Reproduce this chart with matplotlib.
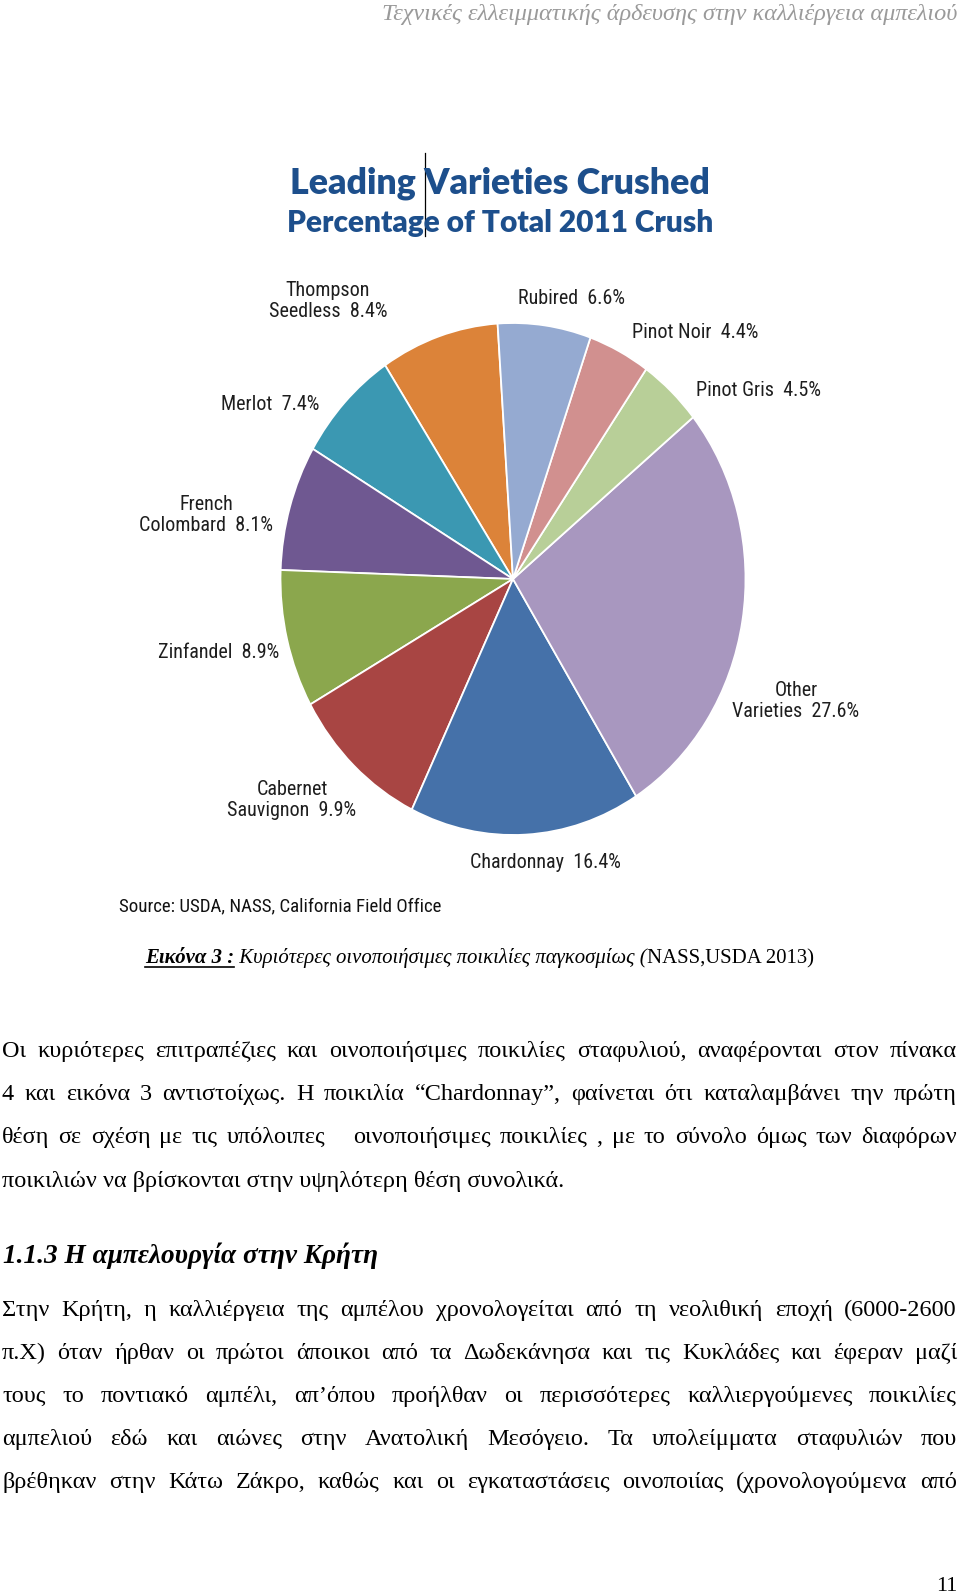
import matplotlib
matplotlib.use("Agg")
import matplotlib.pyplot as plt
from matplotlib import font_manager
from matplotlib.font_manager import FontProperties

W, H = 960, 1596

# pie data, counterclockwise from the top
varieties = ["Thompson\nSeedless", "Merlot", "French\nColombard", "Zinfandel",
             "Cabernet\nSauvignon", "Chardonnay", "Other\nVarieties",
             "Pinot Gris", "Pinot Noir", "Rubired"]
shares = [8.4, 7.4, 8.1, 8.9, 9.9, 16.4, 27.6, 4.5, 4.4, 6.6]
slice_colors = ["#DC8339", "#3B98B2", "#6F5891", "#8BA74D", "#A84543",
                "#4571A9", "#A897BF", "#B8CF98", "#D1908F", "#95AAD1"]

chart_title = ["Leading Varieties Crushed", "Percentage of Total 2011 Crush"]
source_note = "Source: USDA, NASS, California Field Office"
header_text = "Τεχνικές ελλειμματικής άρδευσης στην καλλιέργεια αμπελιού"
caption_parts = ["Εικόνα 3 :", " Κυριότερες οινοποιήσιμες ποικιλίες παγκοσμίως (", "NASS,USDA 2013)"]

para1 = [
    "Οι κυριότερες επιτραπέζιες και οινοποιήσιμες ποικιλίες σταφυλιού, αναφέρονται στον πίνακα",
    "4 και εικόνα 3 αντιστοίχως. Η ποικιλία “Chardonnay”, φαίνεται ότι καταλαμβάνει την πρώτη",
    "θέση σε σχέση με τις υπόλοιπες   οινοποιήσιμες ποικιλίες , με το σύνολο όμως των διαφόρων",
    "ποικιλιών να βρίσκονται στην υψηλότερη θέση συνολικά.",
]
heading = "1.1.3 Η αμπελουργία στην Κρήτη"
para2 = [
    "Στην Κρήτη, η καλλιέργεια της αμπέλου χρονολογείται από τη νεολιθική εποχή (6000-2600",
    "π.Χ) όταν ήρθαν οι πρώτοι άποικοι από τα Δωδεκάνησα και τις Κυκλάδες και έφεραν μαζί",
    "τους το ποντιακό αμπέλι, απ’όπου προήλθαν οι περισσότερες καλλιεργούμενες ποικιλίες",
    "αμπελιού εδώ και αιώνες στην Ανατολική Μεσόγειο. Τα υπολείμματα σταφυλιών που",
    "βρέθηκαν στην Κάτω Ζάκρο, καθώς και οι εγκαταστάσεις οινοποιίας (χρονολογούμενα από",
]
page_number = "11"


def pick_narrow_font() -> dict:
    for fam in ["Liberation Sans Narrow", "Arial Narrow", "Roboto Condensed"]:
        try:
            font_manager.findfont(FontProperties(family=fam), fallback_to_default=False)
            return dict(family=fam)
        except ValueError:
            pass
    path = font_manager.findfont(FontProperties(family="DejaVu Sans", stretch="condensed"))
    if "Condensed" in path:
        return dict(family="DejaVu Sans", stretch="condensed")
    return dict(family="Liberation Sans")


narrow = pick_narrow_font()
serif = "Liberation Serif"

fig = plt.figure(figsize=(W / 100, H / 100), dpi=100)
fig.patch.set_facecolor("white")
renderer = fig.canvas.get_renderer()


def fx(x):
    return x / W


def fy(y):
    return 1 - y / H


def put(x, y, s, **kw):
    kw.setdefault("va", "baseline")
    return fig.text(fx(x), fy(y), s, **kw)


def width_of(t):
    return t.get_window_extent(renderer).width


def fit(x, y, s, width, **kw):
    t = put(x, y, s, **kw)
    t.set_fontsize(t.get_fontsize() * width / width_of(t))
    return t


def natural_width(s, **kw):
    t = put(0, 0, s, **kw)
    w = width_of(t)
    t.remove()
    return w


def justify(line, x0, x1, y, **kw):
    words = line.split(" ")
    arts = [put(0, y, w, **kw) for w in words]
    widths = [width_of(a) if w else 0.0 for a, w in zip(arts, words)]
    gap = (x1 - x0 - sum(widths)) / (len(words) - 1)
    x = x0
    for a, w in zip(arts, widths):
        a.set_x(fx(x))
        x += w + gap


# --- pie ---
cx, cy, rx, ry = 513, 579, 232.5, 256
ax = fig.add_axes([fx(cx - rx), fy(cy + ry), 2 * rx / W, 2 * ry / H])
ax.pie(shares, colors=slice_colors, startangle=93.8, counterclock=True,
       wedgeprops=dict(edgecolor="white", linewidth=1.3))
ax.set_aspect("auto")
ax.set_xlim(-1, 1)
ax.set_ylim(-1, 1)
ax.axis("off")

label_size = 12.5 if narrow["family"] == "Liberation Sans" else 14.5
label_spots = [(328, 301, "center"), (319, 405, "right"), (206, 515, "center"),
               (279, 652, "right"), (292, 800, "center"), (470, 862, "left"),
               (796, 701, "center"), (696, 390, "left"), (632, 333, "left"),
               (572, 299, "center")]
for name, val, (lx, ly, ha) in zip(varieties, shares, label_spots):
    put(lx, ly, f"{name}  {val}%", ha=ha, va="center", fontsize=label_size,
        color="#1e1e1e", multialignment="center", linespacing=1.12, **narrow)

# chart title
title_color = "#1D4F8C"
fit(500, 193, chart_title[0], 421, ha="center", family="Lato", fontweight="heavy",
    color=title_color, fontsize=28)
fit(500, 232, chart_title[1], 426, ha="center", family="Lato", fontweight="heavy",
    color=title_color, fontsize=28)
fig.add_artist(plt.Line2D([fx(425), fx(425)], [fy(153), fy(236)], color="black", linewidth=0.9))

fit(119, 911, source_note, 323, color="#111111", fontsize=12, **narrow)

# header and page number
fit(957, 20, header_text, 576, ha="right", family=serif, style="italic",
    color="#9a9a9a", fontsize=16)
put(957, 1591, page_number, ha="right", family=serif, fontsize=16, color="black")

# caption
cap_styles = [dict(style="italic", fontweight="bold"), dict(style="italic"), dict()]
cap_arts = []
x = 145
for part, st in zip(caption_parts, cap_styles):
    t = put(x, 963, part, family=serif, fontsize=13.5, color="black", **st)
    w = width_of(t)
    cap_arts.append(t)
    x += w
scale = (815 - 145) / (x - 145)
x = 145
for t in cap_arts:
    t.set_fontsize(13.5 * scale)
    t.set_x(fx(x))
    x += width_of(t)
first_w = width_of(cap_arts[0])
fig.add_artist(plt.Line2D([fx(145), fx(145 + first_w)], [fy(967), fy(967)],
                          color="black", linewidth=1.2))

# body text size: the unjustified last line sets it, capped so every justified line keeps word gaps
base_size = 15.5
size = base_size * 587 / natural_width(para1[-1], family=serif, fontsize=base_size)
for line in para1[:-1] + para2:
    nat = natural_width(line, family=serif, fontsize=size)
    n_gaps = line.count(" ")
    space = nat / len(line) * 0.9
    if nat + n_gaps * 0 > 957 - n_gaps * space * 0.35:
        size = min(size, size * (957 - n_gaps * space * 0.35) / nat)
body_kw = dict(family=serif, fontsize=size, color="black")

base1 = [1057, 1100, 1143, 1187]
for i, (line, yb) in enumerate(zip(para1, base1)):
    if i < len(para1) - 1:
        justify(line, 2, 957, yb, **body_kw)
    else:
        put(2, yb, line, **body_kw)

fit(3, 1263, heading, 374, family=serif, fontsize=16.5, style="italic",
    fontweight="bold", color="black")

base2 = [1316, 1359, 1402, 1445, 1488]
for line, yb in zip(para2, base2):
    justify(line, 2, 957, yb, **body_kw)

fig.savefig("out.png", dpi=100, facecolor="white")
